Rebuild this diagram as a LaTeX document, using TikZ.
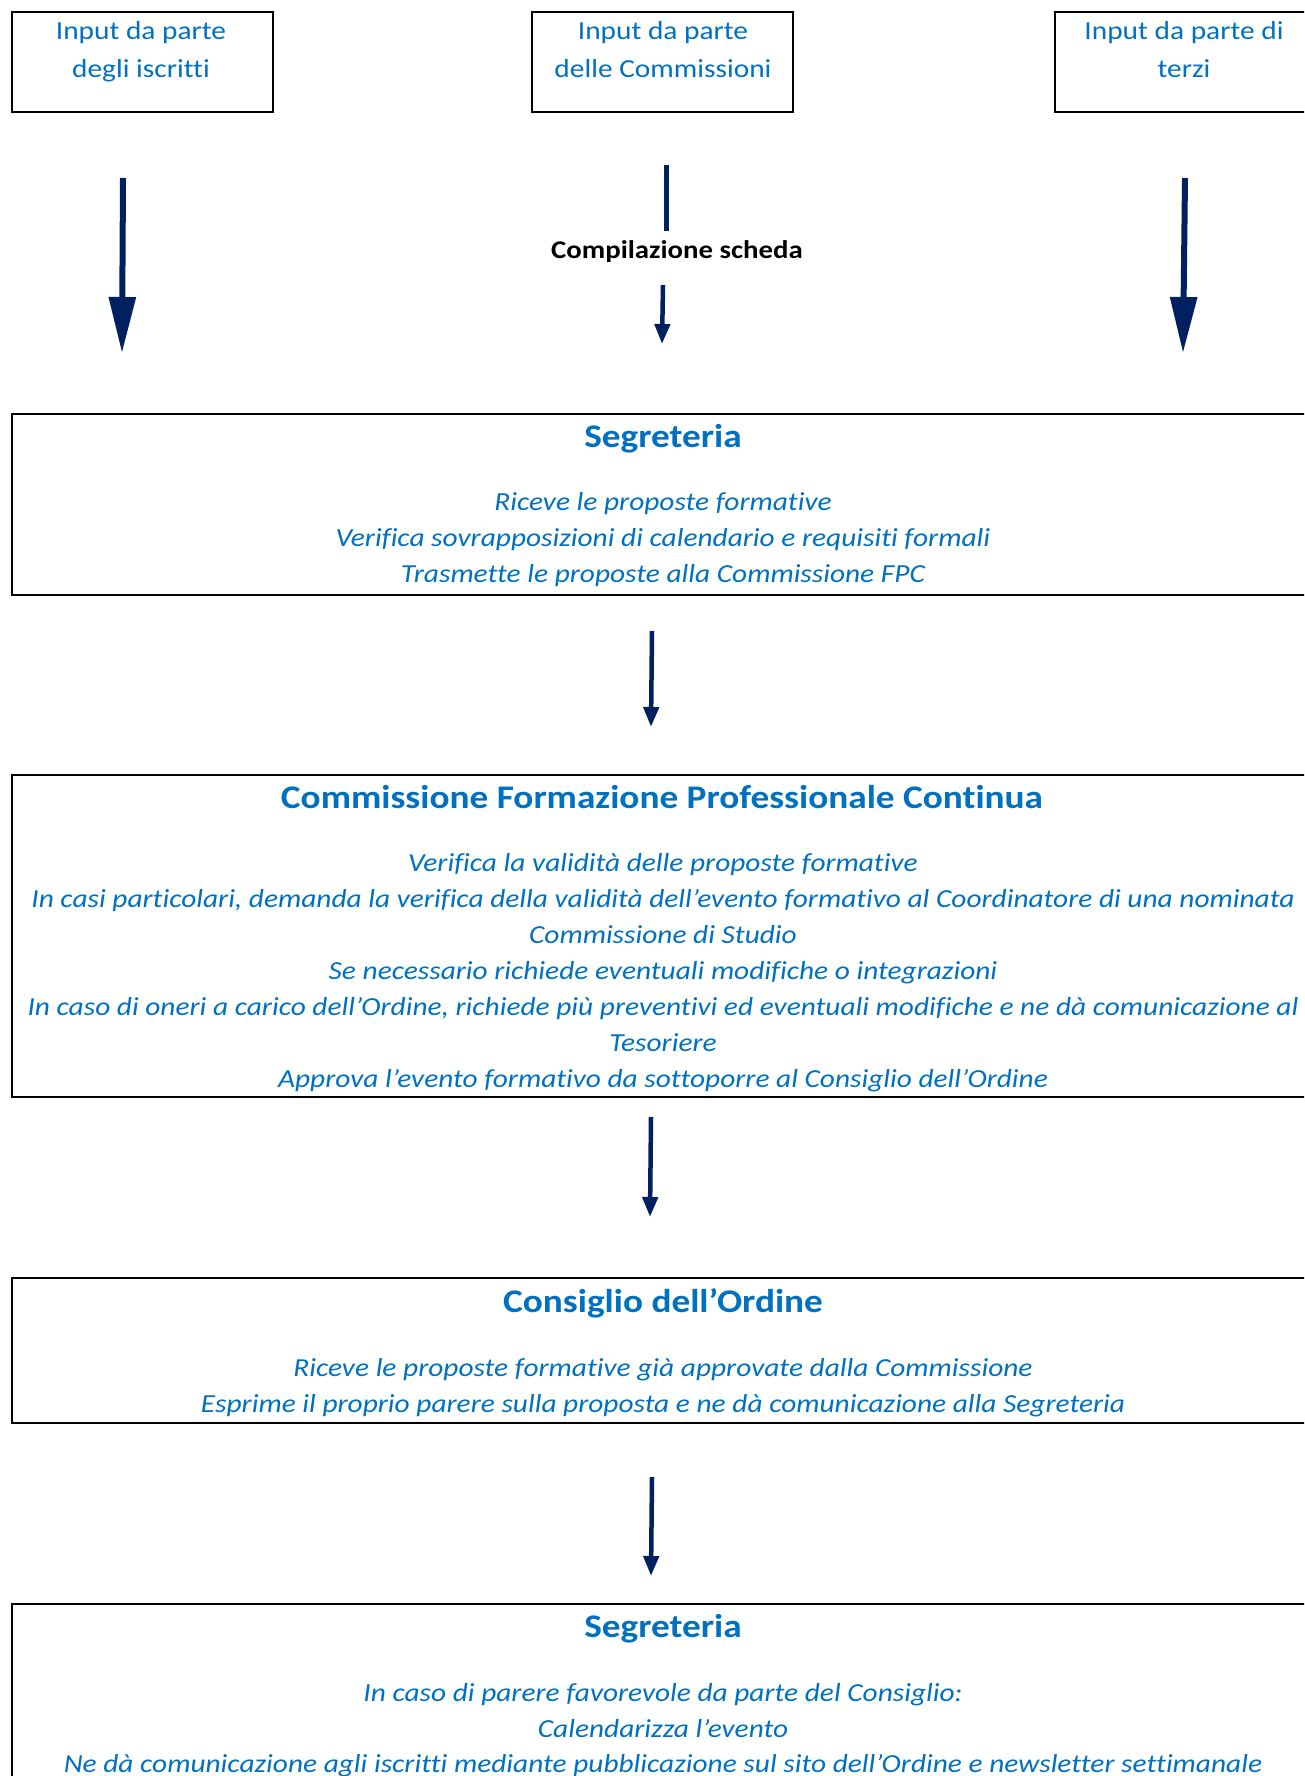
\documentclass[tikz,border=0pt]{standalone}
\usepackage{fontspec}
\setmainfont{Carlito}[FakeStretch=1.13,Ligatures=CommonOff]
\usetikzlibrary{arrows.meta}
\definecolor{txtblue}{RGB}{0,112,192}
\definecolor{navy}{RGB}{0,32,96}
\begin{document}
\begin{tikzpicture}[x=1pt,y=-1pt,
 inbox/.style={draw=black,line width=2pt,anchor=north west,minimum width=261pt,minimum height=100pt,inner sep=0pt},
 bigbox/.style={draw=black,line width=2pt,anchor=north west,minimum width=1304pt,inner sep=0pt},
 intext/.style={text=txtblue,font=\fontsize{26}{31}\selectfont,inner sep=0pt,text height=19pt,text depth=6pt},
 titletext/.style={text=txtblue,font=\bfseries\fontsize{33}{40}\selectfont,inner sep=0pt,text height=24pt,text depth=8pt},
 bodytext/.style={text=txtblue,font=\itshape\fontsize{26}{31}\selectfont,inner sep=0pt,text height=19pt,text depth=6pt},
 labeltext/.style={text=black,font=\bfseries\fontsize{25.5}{31}\selectfont,inner sep=0pt,text height=19pt,text depth=6pt},
 bigarrow/.style={draw=navy,line width=6pt,-{Triangle[length=56pt,width=26pt]}},
 smallarrow/.style={draw=navy,line width=4.5pt,-{Triangle[length=20pt,width=15pt]}},
 plainline/.style={draw=navy,line width=5pt}
]
\useasboundingbox (0,0) rectangle (1304,1776);
\clip (0,0) rectangle (1304,1776);

% top input boxes
\node[inbox] (in1) at (11,11) {};
\node[inbox] (in2) at (531,11) {};
\node[inbox] (in3) at (1054,11) {};
\node[intext] (in1a) at (141,33) {Input da parte};
\node[intext] (in1b) at (141,71) {degli iscritti};
\node[intext] (in2a) at (663,33) {Input da parte};
\node[intext] (in2b) at (663,71) {delle Commissioni};
\node[intext] (in3a) at (1184,33) {Input da parte di};
\node[intext] (in3b) at (1184,71) {terzi};

% arrows from inputs
\coordinate (l1s) at (123,178);
\coordinate (l1e) at (122,353);
\draw[bigarrow] (l1s) -- (l1e);
\coordinate (r1s) at (1185,178);
\coordinate (r1e) at (1183,353);
\draw[bigarrow] (r1s) -- (r1e);
\coordinate (m1s) at (666,165);
\coordinate (m1e) at (666,231);
\draw[plainline] (m1s) -- (m1e);
\node[labeltext] (comp) at (677,252) {Compilazione scheda};
\coordinate (m2s) at (663,285);
\coordinate (m2e) at (662,344);
\draw[smallarrow] (m2s) -- (m2e);

% Segreteria 1
\node[bigbox,minimum height=181pt] (seg1) at (11,413) {};
\node[titletext] (seg1t) at (663,439) {Segreteria};
\foreach \t [count=\i] in {Riceve le proposte formative,Verifica sovrapposizioni di calendario e requisiti formali,Trasmette le proposte alla Commissione FPC}
  \node[bodytext] (seg1l\i) at (663,{504+36*(\i-1)}) {\t};

\coordinate (a1s) at (652,631);
\coordinate (a1e) at (651,727);
\draw[smallarrow] (a1s) -- (a1e);

% CFPC
\node[bigbox,minimum height=322pt] (cfpc) at (11,774) {};
\node[titletext] (cfpct) at (662,800) {Commissione Formazione Professionale Continua};
\foreach \t [count=\i] in {Verifica la validità delle proposte formative,In casi particolari{,} demanda la verifica della validità dell’evento formativo al Coordinatore di una nominata,Commissione di Studio,Se necessario richiede eventuali modifiche o integrazioni,In caso di oneri a carico dell’Ordine{,} richiede più preventivi ed eventuali modifiche e ne dà comunicazione al,Tesoriere,Approva l’evento formativo da sottoporre al Consiglio dell’Ordine}
  \node[bodytext] (cfpcl\i) at (663,{865+36*(\i-1)}) {\t};

\coordinate (a2s) at (651,1117);
\coordinate (a2e) at (650,1217);
\draw[smallarrow] (a2s) -- (a2e);

% Consiglio
\node[bigbox,minimum height=145pt] (cons) at (11,1277) {};
\node[titletext] (const) at (663,1304) {Consiglio dell’Ordine};
\foreach \t [count=\i] in {Riceve le proposte formative già approvate dalla Commissione,Esprime il proprio parere sulla proposta e ne dà comunicazione alla Segreteria}
  \node[bodytext] (consl\i) at (663,{1370+36*(\i-1)}) {\t};

\coordinate (a3s) at (652,1477);
\coordinate (a3e) at (651,1576);
\draw[smallarrow] (a3s) -- (a3e);

% Segreteria 2
\node[bigbox,minimum height=200pt] (seg2) at (11,1603) {};
\node[titletext] (seg2t) at (663,1629) {Segreteria};
\foreach \t [count=\i] in {In caso di parere favorevole da parte del Consiglio:,Calendarizza l’evento,Ne dà comunicazione agli iscritti mediante pubblicazione sul sito dell’Ordine e newsletter settimanale}
  \node[bodytext] (seg2l\i) at (663,{1695+35.5*(\i-1)}) {\t};
\end{tikzpicture}
\end{document}
